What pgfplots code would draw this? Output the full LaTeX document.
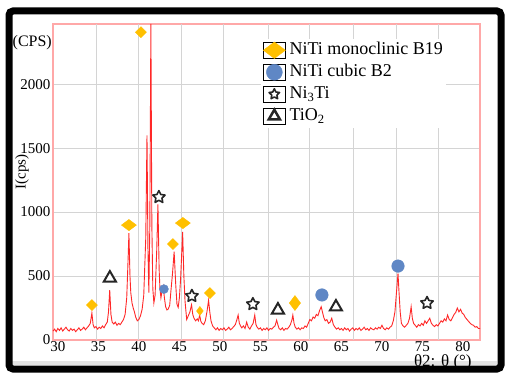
\documentclass[border=0pt]{standalone}
\usepackage{fontspec}
\setmainfont{Liberation Serif}
\usepackage{pgfplots}
\pgfplotsset{compat=1.18}
\definecolor{gold}{RGB}{255,192,0}
\definecolor{steel}{RGB}{95,135,197}
\definecolor{pinkax}{RGB}{255,168,168}
\definecolor{xrd}{RGB}{255,40,40}
\definecolor{gridc}{RGB}{212,212,212}
\pgfdeclareplotmark{fivestar}{%
  \pgfpathmoveto{\pgfpointpolar{90}{\pgfplotmarksize}}%
  \pgfpathlineto{\pgfpointpolar{126}{0.5\pgfplotmarksize}}%
  \pgfpathlineto{\pgfpointpolar{162}{\pgfplotmarksize}}%
  \pgfpathlineto{\pgfpointpolar{198}{0.5\pgfplotmarksize}}%
  \pgfpathlineto{\pgfpointpolar{234}{\pgfplotmarksize}}%
  \pgfpathlineto{\pgfpointpolar{270}{0.5\pgfplotmarksize}}%
  \pgfpathlineto{\pgfpointpolar{306}{\pgfplotmarksize}}%
  \pgfpathlineto{\pgfpointpolar{342}{0.5\pgfplotmarksize}}%
  \pgfpathlineto{\pgfpointpolar{18}{\pgfplotmarksize}}%
  \pgfpathlineto{\pgfpointpolar{54}{0.5\pgfplotmarksize}}%
  \pgfpathclose
  \pgfusepathqfillstroke
}
\begin{document}
\begin{tikzpicture}[x=1pt,y=1pt]
\useasboundingbox (0,0) rectangle (505,373);
\fill[white] (0,0) rectangle (505,373);
\fill[gray!22] (12,8) rectangle (497,12);
\begin{axis}[
  at={(53pt,33pt)}, anchor=south west,
  scale only axis, width=427pt, height=316pt,
  xmin=29.4, xmax=82.1, ymin=0, ymax=2470,
  xtick={30,35,...,80}, ytick={0,500,1000,1500,2000},
  major tick length=0pt,
  ymajorgrids,
  major grid style={gridc, line width=0.9pt},
  extra x ticks={34.81,40.0,45.31,50.49,55.93,61.11,66.42,71.73,76.91},
  extra x tick labels={},
  extra x tick style={grid=major, major tick length=0pt},
  axis line style={draw=pinkax, line width=1.5pt},
  clip=false,
  ticklabel style={font=\fontsize{15}{15}\selectfont},
  xticklabel style={yshift=2pt},
  yticklabel style={xshift=1pt},
  /pgf/number format/assume math mode=true,
  /pgf/number format/set thousands separator={},
  ylabel={I(cps)},
  ylabel style={at={(axis description cs:-0.0726,0.532)}, anchor=center, font=\fontsize{15}{15}\selectfont},
  xlabel={θ2: θ (°)},
  xlabel style={at={(axis description cs:0.913,-0.072)}, anchor=center, font=\fontsize{17}{17}\selectfont},
  legend cell align=left,
  legend style={at={(axis description cs:0.487,0.954)}, anchor=north west,
    draw=none, fill=white, inner sep=2pt, row sep=3pt,
    font=\fontsize{18}{20}\selectfont,
    nodes={inner sep=1pt, text height=13pt, text depth=4pt},
    /tikz/every odd column/.append style={column sep=3pt}},
  legend image code/.code={\path (-11pt,-8pt) rectangle (11pt,8pt); \draw[#1] plot coordinates {(0pt,0pt)};},
]
\addplot[xrd, line width=0.9pt, forget plot] coordinates {
(29.4,70) (29.6,85) (29.8,65) (30.0,90) (30.2,75) (30.4,95) (30.6,70) (30.8,85)
(31.0,100) (31.2,80) (31.4,70) (31.6,90) (31.8,75) (32.0,85) (32.2,65) (32.4,80)
(32.6,95) (32.8,75) (33.0,85) (33.2,100) (33.4,80) (33.6,95) (33.8,110) (34.0,130)
(34.2,210) (34.35,120) (34.5,95) (34.7,105) (34.9,85) (35.1,100) (35.3,90) (35.5,110)
(35.7,95) (35.9,120) (36.1,140) (36.25,220) (36.4,390) (36.55,200) (36.7,140) (36.9,125)
(37.1,140) (37.3,115) (37.5,130) (37.7,120) (37.9,140) (38.1,160) (38.3,200) (38.5,330)
(38.65,600) (38.77,835) (38.9,500) (39.0,370) (39.15,290) (39.3,250) (39.45,220) (39.6,180)
(39.8,150) (40.0,160) (40.2,190) (40.4,240) (40.6,350) (40.85,800) (41.0,1600) (41.12,700)
(41.23,370) (41.35,900) (41.48,2470) (41.6,900) (41.72,400) (41.85,290) (42.0,350) (42.2,700)
(42.35,1060) (42.5,550) (42.6,400) (42.72,330) (42.85,380) (43.0,420) (43.15,330) (43.3,260)
(43.46,235) (43.6,240) (43.8,270) (43.95,380) (44.15,520) (44.35,690) (44.55,430) (44.7,280)
(44.85,255) (45.0,330) (45.15,480) (45.4,845) (45.55,500) (45.7,300) (45.9,160) (46.1,190)
(46.3,220) (46.5,275) (46.65,200) (46.8,170) (47.0,150) (47.2,165) (47.35,150) (47.5,195)
(47.65,145) (47.8,130) (48.0,120) (48.2,150) (48.4,220) (48.6,310) (48.75,220) (48.9,150)
(49.1,110) (49.3,95) (49.5,80) (49.7,95) (49.9,75) (50.1,90) (50.3,80) (50.5,95)
(50.7,75) (50.9,85) (51.1,100) (51.3,80) (51.5,90) (51.7,105) (51.9,120) (52.1,160)
(52.25,195) (52.4,130) (52.55,110) (52.7,95) (52.9,110) (53.1,90) (53.3,140) (53.5,100)
(53.7,85) (53.9,110) (54.1,130) (54.3,195) (54.45,120) (54.6,100) (54.8,85) (55.0,95)
(55.2,75) (55.4,90) (55.6,80) (55.8,95) (56.0,75) (56.2,90) (56.4,85) (56.6,100)
(56.8,110) (57.0,155) (57.15,120) (57.3,90) (57.5,80) (57.7,95) (57.9,75) (58.1,90)
(58.3,85) (58.5,100) (58.7,120) (58.9,160) (59.0,195) (59.15,130) (59.3,100) (59.5,85)
(59.7,95) (59.9,80) (60.1,95) (60.3,90) (60.5,110) (60.7,100) (60.9,130) (61.1,160)
(61.3,150) (61.5,180) (61.7,170) (61.9,200) (62.1,190) (62.3,230) (62.5,260) (62.65,220)
(62.85,170) (63.0,150) (63.2,160) (63.4,130) (63.6,140) (63.8,170) (64.0,120) (64.2,100)
(64.4,85) (64.6,95) (64.8,80) (65.0,90) (65.2,75) (65.4,95) (65.6,80) (65.8,90)
(66.0,70) (66.2,85) (66.4,95) (66.6,75) (66.8,90) (67.0,80) (67.2,95) (67.4,75)
(67.6,85) (67.8,100) (68.0,80) (68.2,90) (68.4,75) (68.6,95) (68.8,85) (69.0,80)
(69.2,95) (69.4,85) (69.6,100) (69.8,90) (70.0,115) (70.2,90) (70.4,80) (70.6,95)
(70.8,85) (71.0,100) (71.2,110) (71.4,150) (71.6,220) (71.8,380) (71.98,520) (72.1,380)
(72.25,220) (72.4,130) (72.6,110) (72.8,100) (73.0,115) (73.2,130) (73.4,170) (73.6,260)
(73.75,170) (73.9,130) (74.1,115) (74.3,100) (74.5,120) (74.7,110) (74.9,130) (75.1,115)
(75.3,150) (75.5,130) (75.7,150) (75.9,170) (76.1,130) (76.3,115) (76.5,105) (76.7,120)
(76.9,110) (77.1,130) (77.3,150) (77.5,140) (77.7,165) (77.9,150) (78.1,195) (78.3,160)
(78.5,150) (78.7,175) (78.9,200) (79.1,215) (79.3,250) (79.5,220) (79.7,240) (79.9,210)
(80.1,200) (80.3,175) (80.5,160) (80.7,145) (80.9,130) (81.1,120) (81.3,115) (81.5,100)
(81.7,105) (81.9,90) (82.1,90)
};
% NiTi monoclinic B19 markers
\addplot[only marks, mark=diamond*, mark size=7.5pt, mark options={rotate=90, fill=gold, draw=gold}, forget plot]
  coordinates {(38.77,898) (45.43,914)};
\addplot[only marks, mark=square*, mark size=3.9pt, mark options={rotate=45, fill=gold, draw=gold}, forget plot]
  coordinates {(34.20,273) (40.25,2406) (44.20,750) (48.77,367)};
\addplot[only marks, mark=diamond*, mark size=4.5pt, mark options={fill=gold, draw=gold}, forget plot]
  coordinates {(47.53,227)};
\addplot[only marks, mark=diamond*, mark size=7.5pt, mark options={fill=gold, draw=gold}, forget plot]
  coordinates {(59.26,289)};
% NiTi cubic B2
\addplot[only marks, mark=*, mark size=4.5pt, mark options={fill=steel, draw=steel}, forget plot]
  coordinates {(43.09,398)};
\addplot[only marks, mark=*, mark size=6.3pt, mark options={fill=steel, draw=steel}, forget plot]
  coordinates {(62.59,352) (71.98,578)};
% Ni3Ti
\addplot[only marks, mark=fivestar, mark size=6.5pt, mark options={fill=white, draw=black!85, line width=1.6pt, line join=round}, forget plot]
  coordinates {(42.47,1117) (46.54,344) (54.07,280) (75.56,289)};
% TiO2
\addplot[only marks, mark=triangle*, mark size=7pt, mark options={fill=white, draw=black!85, line width=2pt}, forget plot]
  coordinates {(36.42,484) (57.16,234) (64.32,258)};

\addlegendimage{only marks, mark=diamond*, mark size=11pt, mark options={rotate=90, fill=gold, draw=gold}}
\addlegendentry{NiTi monoclinic B19}
\addlegendimage{only marks, mark=*, mark size=8pt, mark options={fill=steel, draw=steel}}
\addlegendentry{NiTi cubic B2}
\addlegendimage{only marks, mark=fivestar, mark size=5.5pt, mark options={fill=white, draw=black!85, line width=1.6pt, line join=round}}
\addlegendentry{Ni\textsubscript{3}Ti}
\addlegendimage{only marks, mark=triangle*, mark size=6.5pt, mark options={fill=white, draw=black!85, line width=2.5pt}}
\addlegendentry{TiO\textsubscript{2}}

\node[anchor=east, inner sep=1pt, font=\fontsize{16}{16}\selectfont] at (axis description cs:0,0.94) {(CPS)};
\end{axis}
\draw[black, line width=7pt, rounded corners=4pt] (9,4) rectangle (501,362);
\end{tikzpicture}
\end{document}
